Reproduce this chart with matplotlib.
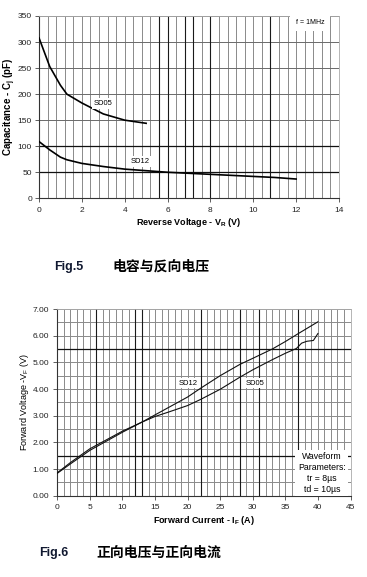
import matplotlib
matplotlib.use('Agg')
import matplotlib.pyplot as plt
from matplotlib.ticker import MultipleLocator

plt.rcParams['mathtext.default'] = 'regular'

NARROW = ['Liberation Sans Narrow', 'Liberation Sans', 'DejaVu Sans']
PLAIN = ['Liberation Sans', 'DejaVu Sans']
CJK = ['Noto Sans CJK SC', 'DejaVu Sans']

# Fig.5 - capacitance vs reverse voltage
sd05_vr = [0, 0.5, 1.0, 1.3, 2.0, 3.0, 4.0, 5.0]
sd05_cap = [308, 253, 217, 200, 183, 162, 150, 144]
sd12_vr = [0, 0.5, 1.0, 1.3, 2, 3, 4, 5, 6, 7, 8, 9, 10, 11, 12]
sd12_cap = [109, 93, 79, 74, 67, 61, 56, 53, 50, 48, 46, 44, 42, 40, 37]
cap_xticks = [0, 2, 4, 6, 8, 10, 12, 14]
cap_yticks = [0, 50, 100, 150, 200, 250, 300, 350]

# Fig.6 - forward voltage vs forward current
sd12_if = [0, 2, 5, 10, 13, 15, 20, 22, 25, 28, 30, 33, 35, 37, 40]
sd12_vf = [0.84, 1.19, 1.70, 2.38, 2.76, 3.03, 3.70, 4.03, 4.50, 4.92, 5.15, 5.50, 5.78, 6.08, 6.52]
sd05_if = [0, 2, 5, 10, 13, 15, 17, 20, 22, 25, 28, 30, 33, 35, 36.7, 37.5, 38.3, 39.3, 40]
sd05_vf = [0.86, 1.24, 1.76, 2.42, 2.76, 2.97, 3.13, 3.38, 3.61, 3.99, 4.44, 4.72, 5.10, 5.34, 5.52, 5.72, 5.79, 5.82, 6.08]
fwd_xticks = [0, 5, 10, 15, 20, 25, 30, 35, 40, 45]
fwd_yticks = [0, 1, 2, 3, 4, 5, 6, 7]

fig = plt.figure(figsize=(3.67, 5.77), dpi=100)

# ---------- top chart ----------
ax1 = fig.add_axes([39 / 367, 1 - 198.3 / 577, 300 / 367, 182.3 / 577])
ax1.set_xlim(0, 14)
ax1.set_ylim(0, 350)
ax1.set_xticks(cap_xticks)
ax1.set_yticks(cap_yticks)
ax1.xaxis.set_minor_locator(MultipleLocator(0.4))
ax1.grid(which='both', axis='x', color='#8a8a8a', lw=0.7)
ax1.grid(which='major', axis='y', color='#6a6a6a', lw=0.7)
for xv in [5.6, 6.0, 6.8, 7.2, 8.0, 10.8]:
    ax1.axvline(xv, color='#1a1a1a', lw=0.8, zorder=1)
for yv in [50, 100]:
    ax1.axhline(yv, color='#111111', lw=0.9, zorder=1)
ax1.set_axisbelow(True)

ax1.plot(sd05_vr, sd05_cap, color='black', lw=1.2, zorder=3)
ax1.plot(sd12_vr, sd12_cap, color='black', lw=1.2, zorder=3)
ax1.text(3.0, 182, 'SD05', fontsize=5.5, family=NARROW, ha='center', va='center',
         bbox=dict(facecolor='white', edgecolor='none', pad=1.5), zorder=4)
ax1.text(4.7, 70, 'SD12', fontsize=5.5, family=NARROW, ha='center', va='center',
         bbox=dict(facecolor='white', edgecolor='none', pad=1.5), zorder=4)
ax1.text(12.65, 338, 'f = 1MHz', fontsize=5, family=NARROW, ha='center', va='center',
         bbox=dict(facecolor='white', edgecolor='none', pad=4), zorder=4)

for s in ['top', 'right']:
    ax1.spines[s].set_color('#aaaaaa')
    ax1.spines[s].set_linewidth(0.6)
for s in ['left', 'bottom']:
    ax1.spines[s].set_color('#333333')
    ax1.spines[s].set_linewidth(0.8)
ax1.tick_params(which='major', length=3, width=0.6, color='#444444', labelsize=6, pad=2)
ax1.tick_params(axis='x', pad=3)
ax1.tick_params(which='minor', length=0)
for lab in ax1.get_xticklabels() + ax1.get_yticklabels():
    lab.set_family(NARROW)
    lab.set_color('#222222')
ax1.set_xlabel('Reverse Voltage - V$_R$ (V)', fontsize=6.5, family=NARROW, fontweight='bold', labelpad=2)
ax1.set_ylabel('Capacitance - C$_j$ (pF)', fontsize=7, family=PLAIN, fontweight='bold')
ax1.yaxis.set_label_coords(-0.07, 0.5)

fig.text(54 / 367, 1 - 266.7 / 577, 'Fig.5', fontsize=9, family=PLAIN,
         fontweight='bold', color='#101830', va='center')
fig.text(112 / 367, 1 - 266.7 / 577, '电容与反向电压', fontsize=10, family=CJK,
         fontweight='bold', va='center')

# ---------- bottom chart ----------
ax2 = fig.add_axes([57.3 / 367, 1 - 495.7 / 577, 293.2 / 367, 186.7 / 577])
ax2.set_xlim(0, 45)
ax2.set_ylim(0, 7)
ax2.set_xticks(fwd_xticks)
ax2.set_yticks(fwd_yticks)
ax2.set_yticklabels([f'{v:.2f}' for v in fwd_yticks])
ax2.xaxis.set_minor_locator(MultipleLocator(1))
ax2.yaxis.set_minor_locator(MultipleLocator(0.5))
ax2.grid(which='both', color='#8a8a8a', lw=0.7)
for xv in [6, 12, 13, 22, 28, 31, 37]:
    ax2.axvline(xv, color='#1a1a1a', lw=0.8, zorder=1)
for yv in [1.5, 5.5]:
    ax2.axhline(yv, color='#111111', lw=0.9, zorder=1)
ax2.set_axisbelow(True)

ax2.plot(sd12_if, sd12_vf, color='#111111', lw=0.8, zorder=3)
ax2.plot(sd05_if, sd05_vf, color='#111111', lw=0.8, zorder=3)
ax2.text(20.1, 4.22, 'SD12', fontsize=5.5, family=NARROW, ha='center', va='center',
         bbox=dict(facecolor='white', edgecolor='none', pad=1.2), zorder=4)
ax2.text(30.4, 4.22, 'SD05', fontsize=5.5, family=NARROW, ha='center', va='center',
         bbox=dict(facecolor='white', edgecolor='none', pad=1.2), zorder=4)
ax2.text(40.6, 0.85, 'Waveform\nParameters:\ntr = 8µs\ntd = 10µs', fontsize=6.3,
         family=PLAIN, ha='center', va='center', linespacing=1.25,
         bbox=dict(facecolor='white', edgecolor='none', boxstyle='square,pad=0.3'), zorder=4)

for s in ['top', 'right']:
    ax2.spines[s].set_color('#aaaaaa')
    ax2.spines[s].set_linewidth(0.6)
for s in ['left', 'bottom']:
    ax2.spines[s].set_color('#333333')
    ax2.spines[s].set_linewidth(0.8)
ax2.tick_params(which='major', length=3, width=0.6, color='#444444', labelsize=6, pad=3)
ax2.tick_params(which='minor', length=0)
for lab in ax2.get_xticklabels() + ax2.get_yticklabels():
    lab.set_family(NARROW)
    lab.set_color('#222222')
ax2.set_xlabel('Forward Current - I$_F$ (A)', fontsize=6.5, family=NARROW, fontweight='bold', labelpad=2)
ax2.set_ylabel('Forward Voltage -V$_F$ (V)', fontsize=6.5, family=NARROW)
ax2.yaxis.set_label_coords(-0.09, 0.5)

fig.text(39 / 367, 1 - 552.7 / 577, 'Fig.6', fontsize=9, family=PLAIN,
         fontweight='bold', color='#101830', va='center')
fig.text(96.7 / 367, 1 - 552.7 / 577, '正向电压与正向电流', fontsize=10, family=CJK,
         fontweight='bold', va='center')

fig.savefig('out.png', dpi=100)
